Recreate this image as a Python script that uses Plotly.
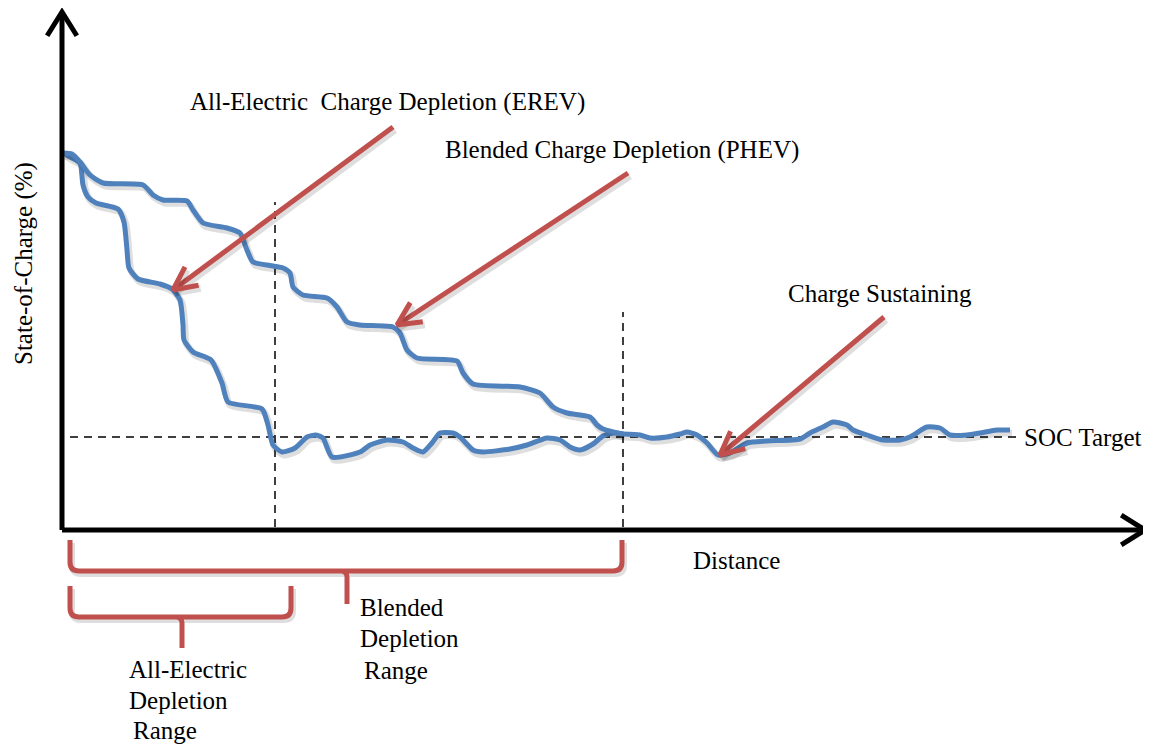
import math
import plotly.graph_objects as go

# ---- data (distance units / state-of-charge units, origin at the axes corner) ----
erev_d = [1, 10, 18, 21, 26, 34, 56, 62, 65, 67, 76, 98, 110, 118, 121, 122, 131, 149, 160, 166,
          200, 206, 211, 220, 233, 245, 254, 261, 270, 298, 308, 325, 341, 351, 361, 370, 378, 391,
          398, 411, 421, 448, 465, 485, 498, 508, 518, 531, 541, 551, 561]
erev_s = [377, 372, 367, 345, 333, 327, 321, 308, 280, 262, 251, 246, 241, 230, 205, 190, 178, 170, 147, 128,
          121, 105, 85, 78, 82, 93, 95, 92, 73, 78, 85, 90, 88, 82, 78, 87, 97, 97,
          93, 80, 78, 81, 85, 92, 90, 83, 80, 86, 94, 97, 96]

phev_d = [1, 10, 18, 28, 41, 81, 91, 101, 125, 131, 141, 165, 178, 185, 191, 211, 221, 228, 231, 241,
          265, 275, 285, 298, 331, 338, 345, 355, 395, 401, 411, 458, 478, 491, 505, 528, 535, 541, 561]
phev_s = [377, 376, 368, 355, 347, 345, 335, 330, 329, 320, 307, 302, 297, 280, 268, 264, 262, 257, 243, 235,
          232, 223, 208, 205, 203, 197, 180, 172, 169, 157, 146, 143, 137, 123, 117, 113, 105, 101, 96]

cs_d = [561, 578, 588, 605, 618, 625, 635, 645, 656, 668, 685, 705, 738, 748, 761, 771, 785, 791, 805,
        821, 838, 848, 865, 878, 888, 905, 918, 935, 948]
cs_s = [96, 95, 92, 93, 96, 98, 95, 87, 75, 77, 87, 89, 91, 97, 103, 108, 105, 100, 95,
        90, 90, 93, 103, 102, 95, 95, 97, 100, 100]

soc_target = 93
target_span = [8, 955]
ae_range_end = 213      # all-electric range end (distance)
bl_range_end = 561      # blended range end (distance)
ae_marker_top = 328
bl_marker_top = 218

# callouts: text, text position, arrow tail, arrow tip
callout_texts = ["All-Electric  Charge Depletion (EREV)", "Blended Charge Depletion (PHEV)", "Charge Sustaining"]
callout_text_pos = [(325, 428), (560, 380), (818, 237)]
callout_tail = [(331, 403), (566, 357), (822, 213)]
callout_tip = [(111, 240), (335, 205), (658, 75)]

# range braces: left, right, top, bar level, middle, tip
brace_left = [8, 8]
brace_right = [560, 229]
brace_top = [-10, -56]
brace_bar = [-41, -87]
brace_mid = [285, 120]
brace_tip = [-74, -118]
brace_labels = [["Blended", "Depletion", "Range"], ["All-Electric", "Depletion", "Range"]]
brace_label_x = [[296, 296, 300], [65, 65, 69]]
brace_label_y = [[-77, -108, -140], [-139, -170, -200]]

x_axis_len = 1083
y_axis_len = 518

BLUE = "#4F81BD"
RED = "#C0504D"
FONT = "Liberation Serif"
FSIZE = 25
SHADOW = "rgba(0,0,0,0.13)"

fig = go.Figure()


def add_line(xs, ys, color, width, shape="linear", dash=None, shadow=False, smoothing=0.6):
    if shadow:
        fig.add_trace(go.Scatter(x=[v + 2 for v in xs], y=[v - 3 for v in ys], mode="lines",
                                 line=dict(color=SHADOW, width=width + 2, shape=shape,
                                           smoothing=smoothing if shape == "spline" else None),
                                 hoverinfo="skip", showlegend=False))
    fig.add_trace(go.Scatter(x=xs, y=ys, mode="lines",
                             line=dict(color=color, width=width, shape=shape, dash=dash,
                                       smoothing=smoothing if shape == "spline" else None),
                             hoverinfo="skip", showlegend=False))


def chevron(tail, tip, length, angle_deg):
    dx, dy = tail[0] - tip[0], tail[1] - tip[1]
    n = math.hypot(dx, dy)
    ux, uy = dx / n, dy / n
    pts = []
    for sgn in (1, -1):
        a = math.radians(angle_deg * sgn)
        rx = ux * math.cos(a) - uy * math.sin(a)
        ry = ux * math.sin(a) + uy * math.cos(a)
        pts.append((tip[0] + rx * length, tip[1] + ry * length))
    return [pts[0][0], tip[0], pts[1][0]], [pts[0][1], tip[1], pts[1][1]]


# dashed reference lines
add_line(target_span, [soc_target, soc_target], "black", 1.5, dash="8px,6px")
add_line([ae_range_end, ae_range_end], [3, ae_marker_top], "black", 1.5, dash="8px,6px")
add_line([bl_range_end, bl_range_end], [3, bl_marker_top], "black", 1.5, dash="8px,6px")

# SOC curves
add_line(erev_d, erev_s, BLUE, 5, shape="spline", shadow=True)
add_line(phev_d, phev_s, BLUE, 5, shape="spline", shadow=True)
add_line(cs_d, cs_s, BLUE, 5, shape="spline", shadow=True)

# callout arrows
for tail, tip in zip(callout_tail, callout_tip):
    add_line([tail[0], tip[0]], [tail[1], tip[1]], RED, 5, shadow=True)
    cx, cy = chevron(tail, tip, 26, 26)
    add_line(cx, cy, RED, 5, shadow=True)

# axes with arrowheads
add_line([0, 0], [0, y_axis_len], "black", 5)
add_line([0, x_axis_len], [0, 0], "black", 5)
cx, cy = chevron((0, 0), (0, y_axis_len), 28, 32)
add_line(cx, cy, "black", 5)
cx, cy = chevron((0, 0), (x_axis_len, 0), 28, 32)
add_line(cx, cy, "black", 5)

# braces
shapes = []
r = 9
for L, R, T, B, M, P in zip(brace_left, brace_right, brace_top, brace_bar, brace_mid, brace_tip):
    shadow_path = (f"M {L + 2},{T - 3} L {L + 2},{B + r - 3} Q {L + 2},{B - 3} {L + r + 2},{B - 3} "
                   f"L {R - r + 2},{B - 3} Q {R + 2},{B - 3} {R + 2},{B + r - 3} L {R + 2},{T - 3}")
    shapes.append(dict(type="path", path=shadow_path, xref="x", yref="y",
                       line=dict(color=SHADOW, width=6)))
for L, R, T, B, M, P in zip(brace_left, brace_right, brace_top, brace_bar, brace_mid, brace_tip):
    path = (f"M {L},{T} L {L},{B + r} Q {L},{B} {L + r},{B} L {R - r},{B} "
            f"Q {R},{B} {R},{B + r} L {R},{T} M {M - 6},{B} Q {M},{B} {M},{B - 6} L {M},{P}")
    shapes.append(dict(type="path", path=path, xref="x", yref="y",
                       line=dict(color=RED, width=5)))

annotations = []
for txt, (tx, ty) in zip(callout_texts, callout_text_pos):
    annotations.append(dict(x=tx, y=ty, text=txt, showarrow=False, xanchor="center", yanchor="middle",
                            font=dict(family=FONT, size=FSIZE, color="black")))
annotations.append(dict(x=960, y=soc_target, text="SOC Target", showarrow=False, xanchor="left",
                        yanchor="middle", font=dict(family=FONT, size=FSIZE, color="black")))
annotations.append(dict(x=674, y=-30, text="Distance", showarrow=False, xanchor="center",
                        yanchor="middle", font=dict(family=FONT, size=FSIZE, color="black")))
annotations.append(dict(x=-38, y=266, text="State-of-Charge (%)", showarrow=False, textangle=-90,
                        xanchor="center", yanchor="middle", font=dict(family=FONT, size=FSIZE, color="black")))
for lines, lxs, lys in zip(brace_labels, brace_label_x, brace_label_y):
    for t, lx, ly in zip(lines, lxs, lys):
        annotations.append(dict(x=lx, y=ly, text=t, showarrow=False, xanchor="left", yanchor="middle",
                                font=dict(family=FONT, size=FSIZE, color="black")))

# the page body adds an 8px margin, so the figure is 8px smaller and the ranges start 8px in
fig.update_layout(
    width=1143, height=737,
    margin=dict(l=0, r=0, t=0, b=0),
    paper_bgcolor="white", plot_bgcolor="white",
    xaxis=dict(range=[-54, 1089], visible=False, fixedrange=True),
    yaxis=dict(range=[-215, 522], visible=False, fixedrange=True),
    shapes=shapes,
    annotations=annotations,
    showlegend=False,
)

fig.write_html("out.html")
